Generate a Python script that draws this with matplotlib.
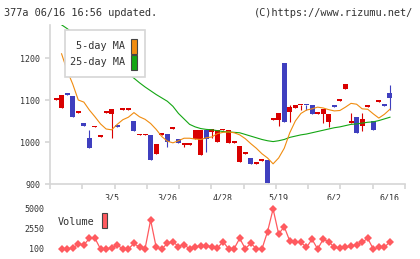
import numpy as np
import matplotlib.pyplot as plt
from matplotlib.patches import Rectangle

# daily candles (index 0..60)
opens = [1101, 1082, 1114, 1110, 1068, 1045, 1010, 1035, 1013, 1069,
         1067, 1041, 1077, 1077, 1051, 1016, 1016, 1017, 972, 1017,
         1018, 1032, 1007, 994, 994, 1006, 970, 1029, 1025, 1000,
         1028, 998, 998, 952, 972, 962, 948, 955, 956, 1053,
         1052, 1188, 1071, 1081, 1087, 1089, 1088, 1067, 1067, 1048,
         1088, 1098, 1126, 1046, 1060, 1038, 1084, 1050, 1096, 1088,
         1117]
closes = [1103, 1112, 1112, 1060, 1074, 1039, 986, 1037, 1015, 1071,
          1079, 1035, 1079, 1079, 1027, 1018, 1018, 958, 995, 1019,
          1000, 1034, 998, 996, 996, 1029, 1029, 1006, 1031, 1029,
          1030, 1029, 1000, 990, 974, 948, 950, 957, 902, 1055,
          1069, 1048, 1083, 1088, 1089, 1087, 1067, 1069, 1079, 1067,
          1084, 1100, 1138, 1050, 1021, 1055, 1086, 1029, 1098, 1086,
          1105]
# wick extremes where they stick out of the body
highs = {6: 1029, 42: 1088, 53: 1068, 55: 1069, 60: 1136}
lows = {10: 1009, 20: 989, 23: 987, 27: 977, 28: 1009, 40: 1039, 42: 1048,
        44: 1076, 45: 1076, 48: 1046, 49: 1036, 55: 1026, 60: 1076}

ma5 = [1210, 1170, 1138, 1100, 1095, 1076, 1060, 1043, 1031, 1029,
       1042, 1053, 1059, 1070, 1060, 1054, 1044, 1030, 1013, 1002,
       998, 1003, 1009, 1009, 1007, 1006, 1010, 1012, 1020, 1023,
       1024, 1022, 1017, 1008, 996, 985, 972, 962, 948, 962,
       985, 1022, 1050, 1068, 1076, 1079, 1083, 1081, 1077, 1074,
       1075, 1083, 1092, 1090, 1079, 1078, 1067, 1057, 1066, 1078]
ma25 = [1279, 1270, 1260, 1250, 1240, 1231, 1221, 1211, 1201, 1192,
        1182, 1172, 1162, 1152, 1141, 1131, 1122, 1113, 1105, 1097,
        1085, 1068, 1055, 1042, 1036, 1032, 1030, 1029, 1027, 1025,
        1024, 1023, 1022, 1018, 1014, 1010, 1006, 1003, 1001, 1003,
        1006, 1011, 1014, 1017, 1019, 1022, 1025, 1028, 1031, 1034,
        1036, 1039, 1042, 1043, 1045, 1047, 1048, 1051, 1055, 1059]

volume = [140, 140, 200, 710, 590, 1410, 1410, 100, 140, 200,
          590, 100, 100, 790, 300, 140, 3650, 300, 100, 790,
          1000, 400, 650, 100, 400, 450, 450, 400, 200, 1000,
          140, 140, 1410, 140, 790, 140, 100, 2220, 5000, 1940,
          2830, 1080, 920, 920, 300, 1290, 100, 1290, 1000, 300,
          200, 300, 450, 650, 920, 1410, 100, 300, 300, 1000]

date_idx = [10, 20, 30, 40, 50, 60]
date_labels = ['3/5', '3/26', '4/28', '5/19', '6/2', '6/16']

RED = '#d90000'
BLUE = '#3f3fbf'
ORANGE = '#f08c10'
GREEN = '#13a613'
VOLC = '#ff5a5f'
GRID = '#d6d6d6'
TXT = '#333333'
FONT = 'DejaVu Sans Mono'

W, H = 420, 259
fig = plt.figure(figsize=(W / 100, H / 100), dpi=100)


def fx(px):
    return px / W


def fy(py):
    return (H - py) / H


xlo, xhi = -1.08, 62.7

# ---- main price panel
ax = fig.add_axes([fx(50), fy(184), fx(355), (184 - 25) / H])
ax.set_xlim(xlo, xhi)
ax.set_ylim(900, 900 + (184 - 25) / 0.42)

for i, (o, c) in enumerate(zip(opens, closes)):
    col = RED if c >= o else BLUE
    hi = highs.get(i, max(o, c))
    lo = lows.get(i, min(o, c))
    if hi > lo:
        ax.vlines(i, lo, hi, color=col, lw=0.8, zorder=2)
    bot = min(o, c)
    h = max(abs(c - o), 4)
    ax.bar(i, h, bottom=bot, width=0.9, color=col, lw=0, zorder=3)

idx = np.arange(1, 61)
ax.plot(idx, ma25, color=GREEN, lw=0.8, zorder=4)
ax.plot(idx, ma5, color=ORANGE, lw=0.8, zorder=4)

for s in ['top', 'right']:
    ax.spines[s].set_visible(False)
for s in ['left', 'bottom']:
    ax.spines[s].set_color(GRID)
    ax.spines[s].set_linewidth(1.2)
ax.set_yticks([900, 1000, 1100, 1200])
ax.set_xticks(np.linspace(xlo, xhi, 12))
ax.set_xticklabels([])
ax.tick_params(axis='both', length=3.6, width=1.2, color=GRID,
               labelsize=6, labelcolor=TXT, pad=3.4)
for lab in ax.get_yticklabels():
    lab.set_family(FONT)

for i, lab in zip(date_idx, date_labels):
    ax.text(i, -14 / 159, lab, transform=ax.get_xaxis_transform(),
            ha='center', va='center', fontsize=6, color=TXT,
            family=FONT, clip_on=False)

# legend box
ax.add_patch(Rectangle((fx(65), fy(77)), fx(80), 47 / H,
                       transform=fig.transFigure, facecolor='white',
                       edgecolor=GRID, lw=1.2, zorder=10, clip_on=False))
for py, lab, col in [(46, '5-day MA', ORANGE), (62, '25-day MA', GREEN)]:
    fig.text(fx(125), fy(py), lab, ha='right', va='center', fontsize=7.3,
             color=TXT, family=FONT, zorder=11)
    ax.add_patch(Rectangle((fx(131), fy(py + 7.5)), fx(6), 15 / H,
                           transform=fig.transFigure, facecolor=col,
                           edgecolor='#444444', lw=0.8, zorder=11,
                           clip_on=False))

# ---- volume panel
vax = fig.add_axes([fx(50), fy(255), fx(355), (255 - 200) / H])
vax.set_xlim(xlo, xhi)
v_at = lambda py: 100 + (249 - py) * 4900 / 40
vax.set_ylim(v_at(255), v_at(200))
vax.plot(idx, volume, color=VOLC, lw=0.9, marker='D', markersize=4.2,
         markeredgewidth=0)
for s in vax.spines.values():
    s.set_visible(False)
vax.set_xticks([])
vax.set_yticks([100, 2550, 5000])
vax.tick_params(axis='y', length=0, labelsize=6, labelcolor=TXT, pad=4.3)
for lab in vax.get_yticklabels():
    lab.set_family(FONT)

fig.text(fx(58), fy(222), 'Volume', ha='left', va='center', fontsize=7.3,
         color=TXT, family=FONT)
fig.patches.append(Rectangle((fx(102), fy(228)), fx(5), 15 / H,
                             transform=fig.transFigure, facecolor=VOLC,
                             edgecolor='#444444', lw=0.8))

# header
fig.text(fx(4), fy(13), '377a 06/16 16:56 updated.', ha='left',
         va='center', fontsize=7.4, color=TXT, family=FONT)
fig.text(fx(413), fy(13), '(C)https://www.rizumu.net/', ha='right',
         va='center', fontsize=7.4, color=TXT, family=FONT)

fig.savefig('out.png', dpi=100)
